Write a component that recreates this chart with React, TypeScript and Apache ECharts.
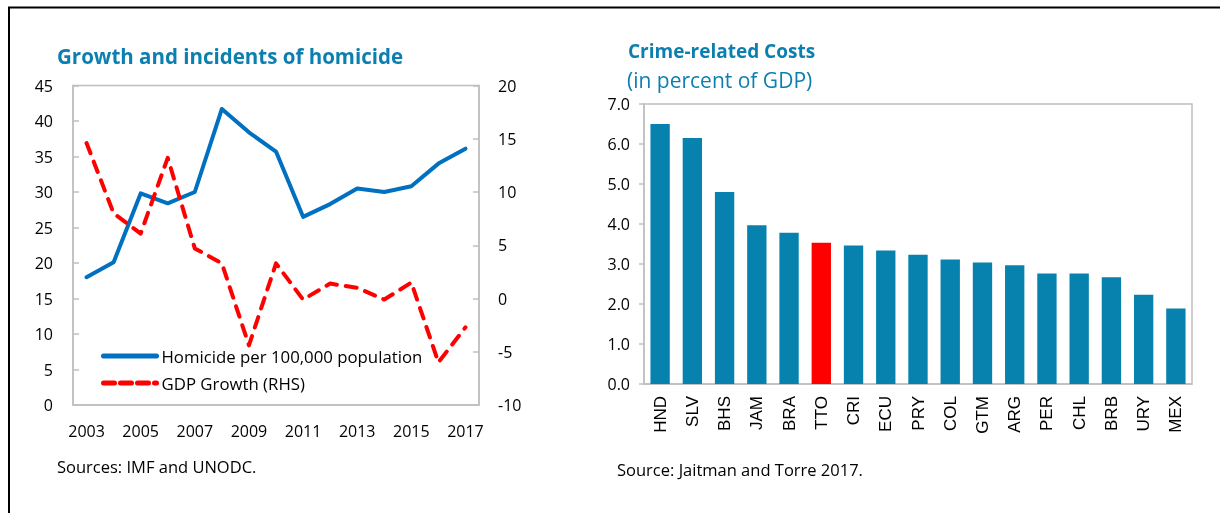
import React, { useEffect, useRef } from "react";
import * as echarts from "echarts";

const years = ["2003","2004","2005","2006","2007","2008","2009","2010","2011","2012","2013","2014","2015","2016","2017"];
const homicide = [18.0, 20.1, 29.8, 28.4, 30.0, 41.7, 38.4, 35.7, 26.5, 28.3, 30.5, 30.0, 30.8, 34.0, 36.1];
const gdpGrowth = [14.6, 8.0, 6.1, 13.2, 4.7, 3.3, -4.4, 3.3, -0.1, 1.4, 1.0, -0.1, 1.5, -6.0, -2.7];

const countries = ["HND","SLV","BHS","JAM","BRA","TTO","CRI","ECU","PRY","COL","GTM","ARG","PER","CHL","BRB","URY","MEX"];
const crimeCosts = [6.5, 6.15, 4.8, 3.97, 3.78, 3.53, 3.46, 3.34, 3.23, 3.11, 3.04, 2.97, 2.76, 2.76, 2.67, 2.23, 1.89];
const highlight = "TTO";

const FONT = "'Open Sans', 'Noto Sans', sans-serif";
const TEAL = "#0b7fb0";
const GRID = "#bfbfbf";

export default function App() {
  const ref = useRef<HTMLDivElement>(null);
  useEffect(() => {
    if (!ref.current) return;
    const chart = echarts.init(ref.current, null, { renderer: "svg" });
    const axisText = { color: "#000", fontSize: 16, fontFamily: FONT };
    chart.setOption({
      animation: false,
      textStyle: { fontFamily: FONT },
      title: [
        { text: "Growth and incidents of homicide", left: 57, top: 45, padding: 0, textStyle: { color: TEAL, fontSize: 20.5, fontWeight: "bold", fontFamily: FONT } },
        { text: "Crime-related Costs", left: 628, top: 41, padding: 0, textStyle: { color: TEAL, fontSize: 19, fontWeight: "bold", fontFamily: FONT } },
        { text: "(in percent of GDP)", left: 627, top: 69, padding: 0, textStyle: { color: TEAL, fontSize: 21, fontWeight: "normal", fontFamily: FONT } },
        { text: "Sources: IMF and UNODC.", left: 57, top: 458, padding: 0, textStyle: { color: "#000", fontSize: 16.5, fontWeight: "normal", fontFamily: FONT } },
        { text: "Source: Jaitman and Torre 2017.", left: 617, top: 461, padding: 0, textStyle: { color: "#000", fontSize: 16.5, fontWeight: "normal", fontFamily: FONT } },
      ],
      graphic: [
        { type: "line", shape: { x1: 8, y1: 7.5, x2: 1220, y2: 7.5 }, style: { stroke: "#000", lineWidth: 2 } },
        { type: "line", shape: { x1: 9, y1: 7, x2: 9, y2: 513 }, style: { stroke: "#000", lineWidth: 2 } },
      ],
      legend: {
        data: [
          { name: "Homicide per 100,000 population", itemStyle: { opacity: 0 }, lineStyle: { width: 5, color: "#0070C0" } },
          { name: "GDP Growth (RHS)", itemStyle: { opacity: 0 }, lineStyle: { width: 5, color: "#FF0000", type: [11, 6] } },
        ],
        orient: "vertical",
        left: 101,
        top: 346,
        padding: 0,
        itemWidth: 53,
        itemHeight: 14,
        itemGap: 7,
        textStyle: { color: "#000", fontSize: 16.8, fontFamily: FONT, lineHeight: 20 },
      },
      grid: [
        { left: 73, top: 85.5, right: 741, bottom: 108, show: true, borderColor: GRID, borderWidth: 1.5, backgroundColor: "transparent" },
        { left: 644, top: 104, right: 28, bottom: 129, show: true, borderColor: GRID, borderWidth: 1.5, backgroundColor: "transparent" },
      ],
      xAxis: [
        {
          type: "category", gridIndex: 0, data: years, boundaryGap: true,
          axisLine: { lineStyle: { color: GRID, width: 1.5 } },
          axisTick: { inside: true, length: 6, interval: 1, lineStyle: { color: GRID, width: 1.5 } },
          axisLabel: { ...axisText, interval: 1, margin: 18 },
        },
        {
          type: "category", gridIndex: 1, data: countries, boundaryGap: true,
          axisLine: { lineStyle: { color: GRID, width: 1.5 } },
          axisTick: { inside: true, length: 6, interval: 0, lineStyle: { color: GRID, width: 1.5 } },
          axisLabel: { color: "#000", fontSize: 17, fontFamily: "'Liberation Sans', Arial, sans-serif", rotate: 90, interval: 0, margin: 12 },
        },
      ],
      yAxis: [
        {
          type: "value", gridIndex: 0, min: 0, max: 45, interval: 5,
          axisLine: { show: true, lineStyle: { color: GRID, width: 1.5 } },
          axisTick: { show: true, inside: true, length: 6, lineStyle: { color: GRID, width: 1.5 } },
          axisLabel: { ...axisText, margin: 20 },
          splitLine: { show: false },
        },
        {
          type: "value", gridIndex: 0, position: "right", min: -10, max: 20, interval: 5,
          axisLine: { show: true, lineStyle: { color: GRID, width: 1.5 } },
          axisTick: { show: true, inside: true, length: 6, lineStyle: { color: GRID, width: 1.5 } },
          axisLabel: { ...axisText, margin: 19 },
          splitLine: { show: false },
        },
        {
          type: "value", gridIndex: 1, min: 0, max: 7, interval: 1,
          axisLine: { show: true, lineStyle: { color: GRID, width: 1.5 } },
          axisTick: { show: true, inside: false, length: 5, lineStyle: { color: GRID, width: 1.5 } },
          axisLabel: { ...axisText, margin: 14, formatter: (v: number) => v.toFixed(1) },
          splitLine: { show: false },
        },
      ],
      series: [
        {
          name: "Homicide per 100,000 population", type: "line", xAxisIndex: 0, yAxisIndex: 0,
          data: homicide, symbol: "none", color: "#0070C0",
          lineStyle: { color: "#0070C0", width: 4, join: "round", cap: "round" },
        },
        {
          name: "GDP Growth (RHS)", type: "line", xAxisIndex: 0, yAxisIndex: 1,
          data: gdpGrowth, symbol: "none", color: "#FF0000",
          lineStyle: { color: "#FF0000", width: 4, type: [11, 9], join: "round", cap: "round" },
        },
        {
          name: "Crime-related costs", type: "bar", xAxisIndex: 1, yAxisIndex: 2,
          barCategoryGap: "40%",
          data: crimeCosts.map((v, i) => ({
            value: v,
            itemStyle: { color: countries[i] === highlight ? "#FF0000" : "#0782AE" },
          })),
        },
      ],
    });
    return () => chart.dispose();
  }, []);
  return <div ref={ref} style={{ position: "fixed", left: 0, top: 0, width: 1220, height: 513 }} />;
}
